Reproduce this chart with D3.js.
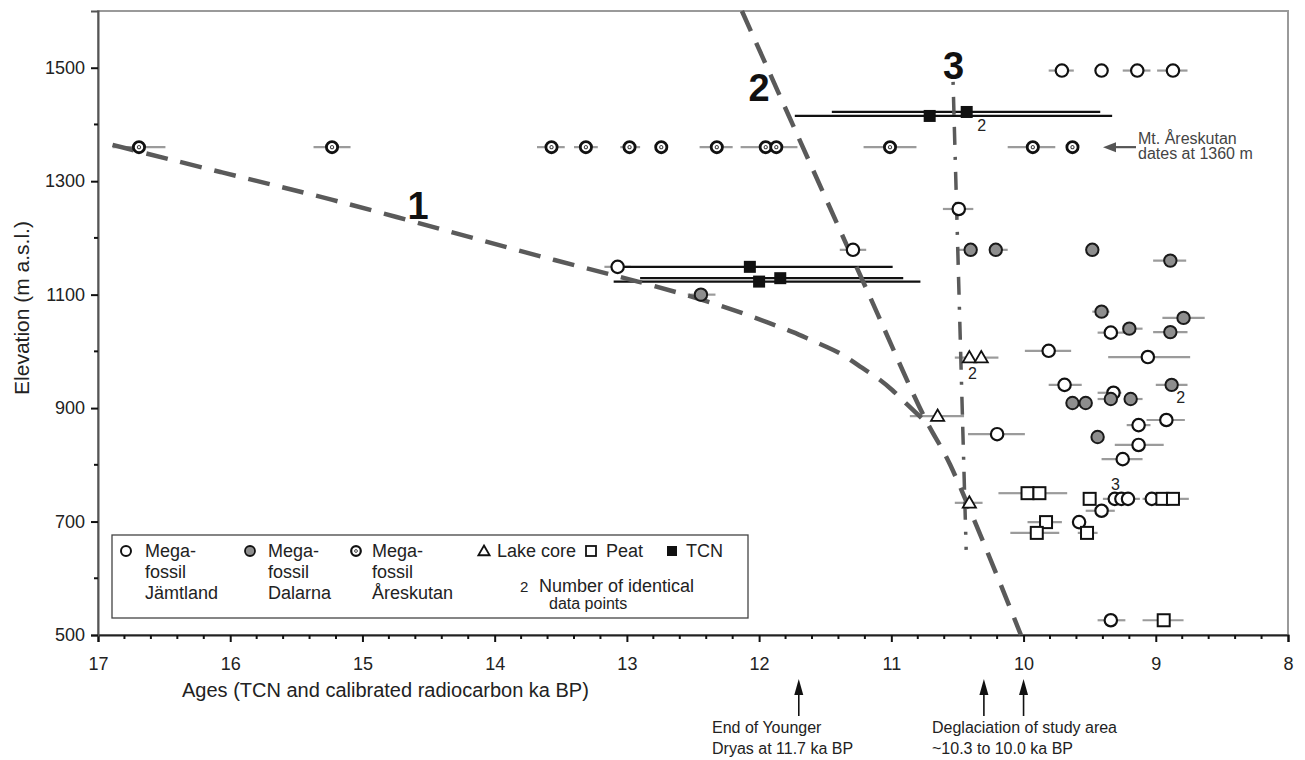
<!DOCTYPE html>
<html><head><meta charset="utf-8">
<script src="https://cdn.jsdelivr.net/npm/d3@7"></script>
<style>
html,body{margin:0;padding:0;background:#fff;}
svg{display:block;font-family:"Liberation Sans",Arial,Helvetica,sans-serif;}
</style></head>
<body>
<svg id="chart" width="1305" height="760"></svg>
<script>
// ---------- DATA ----------
const xTicks = [17,16,15,14,13,12,11,10,9,8];
const yTicks = [500,700,900,1100,1300,1500];
// [age ka BP, elevation m, age error older end, age error younger end]
const jamtland = [
  [9.71,1495,9.81,9.62],[9.41,1495,null,null],[9.14,1495,9.25,9.04],[8.87,1495,8.99,8.76],
  [10.49,1251,10.61,10.38],[11.29,1179,11.39,11.19],[13.07,1149,13.17,12.97],
  [9.34,1033,9.44,9.22],[9.81,1001,9.99,9.64],[9.06,990,9.36,8.74],[9.69,941,9.81,9.56],
  [9.32,927,9.44,9.26],[8.92,879,9.07,8.78],[9.13,870,9.22,9.04],[9.13,835,9.31,8.94],
  [9.25,810,9.41,9.10],[10.20,854,10.42,9.99],[9.41,719,9.53,9.31],[9.58,699,null,null],
  [9.31,740,9.40,null],[9.26,740,null,null],[9.21,740,null,9.12],[9.03,740,9.10,null],
  [9.34,526,9.44,9.23]
];
const dalarna = [
  [12.44,1100,12.54,12.33],[10.40,1179,10.49,null],[10.21,1179,null,10.12],[9.48,1179,null,null],
  [8.89,1160,9.02,8.77],[9.41,1070,9.48,9.35],[8.79,1059,8.95,8.63],[9.20,1040,null,9.10],
  [8.89,1034,9.02,8.76],[9.63,909,null,null],[9.53,909,null,null],[9.34,916,9.44,null],
  [9.19,916,null,9.10],[8.88,941,9.00,8.76],[9.44,849,null,null]
];
const areskutan = [
  [16.69,1360,16.89,16.49],[15.23,1360,15.37,15.09],[13.57,1360,13.68,13.47],[13.31,1360,13.40,13.22],
  [12.98,1360,13.05,12.90],[12.74,1360,null,null],[12.32,1360,12.45,12.20],[11.95,1360,12.14,null],
  [11.87,1360,null,11.71],[11.01,1360,11.21,10.81],[9.93,1360,10.12,9.76],[9.63,1360,null,null]
];
const lakeCore = [
  [10.65,886,10.86,10.45],[10.41,989,10.52,null],[10.32,989,null,10.19],[10.41,733,10.52,10.31]
];
const peat = [
  [9.97,750,10.19,null],[9.88,750,null,9.67],[9.50,740,9.55,9.45],[8.95,740,null,null],
  [8.87,740,null,8.75],[9.83,699,9.97,9.71],[9.90,680,10.10,9.73],[9.52,680,9.59,9.44],
  [8.94,526,9.10,8.79]
];
const tcn = [
  [12.07,1149,13.08,10.99],[12.00,1123,13.10,10.78],[11.84,1129,12.90,10.91],
  [10.71,1415,11.73,9.33],[10.43,1422,11.45,9.42]
];
// number of identical data points: [label, age, elevation]
const identical = [["2",10.43,1422],["2",10.41,989],["2",8.88,941],["3",9.26,740]];
// deglaciation lines [age, elevation]
const line1 = [[16.89,1364],[16.06,1315],[15.24,1269],[14.34,1211],[13.51,1158],[12.90,1123],
  [12.29,1082],[11.89,1047],[11.74,1034],[11.61,1020],[11.49,1008],[11.36,994],[11.24,973],
  [11.11,955],[10.99,932],[10.88,906],[10.76,880]];
const line2 = [[12.13,1600],[11.175,1103],[10.752,885],[10.555,800],[10.02,500]];
const line3 = [[10.533,1475],[10.434,650]];
const lineLabels = [["1",14.58,1258],["2",12.0,1465],["3",10.53,1505]];
const arrowAges = [11.7,10.3,10.0];

// ---------- CHART ----------
const svg = d3.select("#chart");
const x = d3.scaleLinear().domain([17,8]).range([98,1288]);
const y = d3.scaleLinear().domain([500,1600]).range([635,11]);
const font = '"Liberation Sans",Arial,Helvetica,sans-serif';
const ink = "#222";

// frame
svg.append("rect").attr("x",x(17)).attr("y",y(1600)).attr("width",x(8)-x(17)).attr("height",y(500)-y(1600))
  .attr("fill","none").attr("stroke","#9a9a9a").attr("stroke-width",2);

// axes
const xAxis = d3.axisBottom(x).tickValues(xTicks).tickSize(7).tickFormat(d3.format("d")).tickPadding(15);
const gx = svg.append("g").attr("transform",`translate(0,${y(500)})`).call(xAxis);
gx.select(".domain").attr("stroke","#222").attr("stroke-width",2);
gx.selectAll(".tick line").attr("stroke","#111").attr("stroke-width",2);
gx.selectAll(".tick text").attr("font-size",18).attr("font-family",font).attr("fill",ink);
const xMinor = d3.range(17,8,-0.2).map(d=>+d.toFixed(1)).filter(d=>Math.abs(d-Math.round(d))>0.01);
svg.append("g").selectAll("line").data(xMinor).join("line")
  .attr("x1",d=>x(d)).attr("x2",d=>x(d)).attr("y1",y(500)).attr("y2",y(500)+4)
  .attr("stroke","#111").attr("stroke-width",2);

const yAxis = d3.axisLeft(y).tickValues(yTicks).tickSize(7).tickPadding(6).tickFormat(d3.format("d"));
const gy = svg.append("g").attr("transform",`translate(${x(17)},0)`).call(yAxis);
gy.select(".domain").attr("stroke","#555").attr("stroke-width",2);
gy.selectAll(".tick line").attr("stroke","#111").attr("stroke-width",2);
gy.selectAll(".tick text").attr("font-size",18).attr("font-family",font).attr("fill",ink);
const yMinor = [600,800,1000,1200,1400];
svg.append("g").selectAll("line").data(yMinor).join("line")
  .attr("x1",x(17)-4).attr("x2",x(17)).attr("y1",d=>y(d)).attr("y2",d=>y(d))
  .attr("stroke","#111").attr("stroke-width",2);

// axis titles
svg.append("text").attr("x",182).attr("y",697).attr("font-size",20).attr("fill",ink)
  .text("Ages (TCN and calibrated radiocarbon ka BP)");
svg.append("text").attr("transform","translate(29,308) rotate(-90)").attr("text-anchor","middle")
  .attr("font-size",21).attr("fill",ink).text("Elevation (m a.s.l.)");

// error bars
const errSeries = [jamtland,dalarna,areskutan,lakeCore,peat];
const gErr = svg.append("g");
errSeries.forEach(s=>{
  gErr.selectAll(null).data(s.filter(d=>d[2]!==null||d[3]!==null)).join("line")
    .attr("x1",d=>x(d[2]===null?d[0]:d[2])).attr("x2",d=>x(d[3]===null?d[0]:d[3]))
    .attr("y1",d=>y(d[1])).attr("y2",d=>y(d[1]))
    .attr("stroke","#9b9b9b").attr("stroke-width",2.2);
});
svg.append("g").selectAll("line").data(tcn).join("line")
  .attr("x1",d=>x(d[2])).attr("x2",d=>x(d[3])).attr("y1",d=>y(d[1])).attr("y2",d=>y(d[1]))
  .attr("stroke","#111").attr("stroke-width",2.2);

// dashed lines
const mk = (c)=>d3.line().x(d=>x(d[0])).y(d=>y(d[1])).curve(c);
svg.append("path").attr("d",mk(d3.curveBasis)(line1)).attr("fill","none")
  .attr("stroke","#5a5a5a").attr("stroke-width",4.5).attr("stroke-dasharray","22,13");
svg.append("path").attr("d",mk(d3.curveCatmullRom)(line2)).attr("fill","none")
  .attr("stroke","#5a5a5a").attr("stroke-width",4.5).attr("stroke-dasharray","22,13");
svg.append("path").attr("d",mk(d3.curveLinear)(line3)).attr("fill","none")
  .attr("stroke","#5a5a5a").attr("stroke-width",3.5).attr("stroke-dasharray","3,12,18,12,18,12");
svg.append("g").selectAll("text").data(lineLabels).join("text")
  .attr("x",d=>x(d[1])).attr("y",d=>y(d[2])).attr("text-anchor","middle").attr("dy","0.36em")
  .attr("font-size",38).attr("font-weight","bold").attr("fill","#111").text(d=>d[0]);

// symbols
function drawCircles(data,fill,stroke,sw){
  svg.append("g").selectAll("circle").data(data).join("circle")
    .attr("cx",d=>x(d[0])).attr("cy",d=>y(d[1])).attr("r",6.2)
    .attr("fill",fill).attr("stroke",stroke).attr("stroke-width",sw);
}
drawCircles(jamtland,"#fff","#111",2.2);
drawCircles(dalarna,"#8e8e8e","#1a1a1a",2);
const ga = svg.append("g").selectAll("g").data(areskutan).join("g")
  .attr("transform",d=>`translate(${x(d[0])},${y(d[1])})`);
ga.append("circle").attr("r",5.6).attr("fill","#fff").attr("stroke","#111").attr("stroke-width",2.8);
ga.append("circle").attr("r",1.6).attr("fill","#fff").attr("stroke","#444").attr("stroke-width",1.1);
const tri = d3.symbol().type(d3.symbolTriangle).size(75);
svg.append("g").selectAll("path").data(lakeCore).join("path")
  .attr("d",tri).attr("transform",d=>`translate(${x(d[0])},${y(d[1])+1})`)
  .attr("fill","#fff").attr("stroke","#111").attr("stroke-width",1.8);
svg.append("g").selectAll("rect").data(peat).join("rect")
  .attr("x",d=>x(d[0])-6).attr("y",d=>y(d[1])-6).attr("width",12).attr("height",12)
  .attr("fill","#fff").attr("stroke","#111").attr("stroke-width",2);
svg.append("g").selectAll("rect").data(tcn).join("rect")
  .attr("x",d=>x(d[0])-6).attr("y",d=>y(d[1])-6).attr("width",12).attr("height",12)
  .attr("fill","#111");

// number of identical points
const idOffsets = [[15,19],[3,21],[9,18],[-6,-9]];
svg.append("g").selectAll("text").data(identical).join("text")
  .attr("x",(d,i)=>x(d[1])+idOffsets[i][0]).attr("y",(d,i)=>y(d[2])+idOffsets[i][1])
  .attr("text-anchor","middle").attr("font-size",16).attr("fill",ink).text(d=>d[0]);

// Mt. Åreskutan annotation
const ay = y(1360);
svg.append("line").attr("x1",1136).attr("x2",1112).attr("y1",ay).attr("y2",ay).attr("stroke","#555").attr("stroke-width",2.2);
svg.append("path").attr("d",`M1103,${ay} L1116,${ay-5} L1116,${ay+5} Z`).attr("fill","#555");
svg.append("text").attr("x",1138).attr("y",ay-3).attr("font-size",16).attr("fill","#444").text("Mt. Åreskutan");
svg.append("text").attr("x",1138).attr("y",ay+12).attr("font-size",16).attr("fill","#444").text("dates at 1360 m");

// arrows below axis
arrowAges.forEach(a=>{
  const ax = x(a);
  svg.append("line").attr("x1",ax).attr("x2",ax).attr("y1",716).attr("y2",690).attr("stroke","#111").attr("stroke-width",1.6);
  svg.append("path").attr("d",`M${ax},679 L${ax-4.5},695 L${ax+4.5},695 Z`).attr("fill","#111");
});
svg.append("text").attr("x",712).attr("y",733).attr("font-size",16).attr("fill",ink).text("End of Younger");
svg.append("text").attr("x",712).attr("y",754).attr("font-size",16).attr("fill",ink).text("Dryas at 11.7 ka BP");
svg.append("text").attr("x",932).attr("y",733).attr("font-size",16).attr("fill",ink).text("Deglaciation of study area");
svg.append("text").attr("x",932).attr("y",754).attr("font-size",16).attr("fill",ink).text("~10.3 to 10.0 ka BP");

// legend
const lgG = svg.append("g");
lgG.append("rect").attr("x",112).attr("y",535).attr("width",636).attr("height",83)
  .attr("fill","#fff").attr("stroke","#444").attr("stroke-width",1.3);
const ly = 551;
lgG.append("circle").attr("cx",126).attr("cy",ly).attr("r",5).attr("fill","#fff").attr("stroke","#111").attr("stroke-width",2);
lgG.append("circle").attr("cx",250).attr("cy",ly).attr("r",5).attr("fill","#8e8e8e").attr("stroke","#111").attr("stroke-width",1.8);
lgG.append("circle").attr("cx",356).attr("cy",ly).attr("r",4.8).attr("fill","#fff").attr("stroke","#111").attr("stroke-width",2.2);
lgG.append("circle").attr("cx",356).attr("cy",ly).attr("r",1.4).attr("fill","#fff").attr("stroke","#444").attr("stroke-width",1);
lgG.append("path").attr("d",d3.symbol().type(d3.symbolTriangle).size(55)).attr("transform",`translate(484,${ly+1})`)
  .attr("fill","#fff").attr("stroke","#111").attr("stroke-width",1.8);
lgG.append("rect").attr("x",586).attr("y",ly-5).attr("width",10).attr("height",10).attr("fill","#fff").attr("stroke","#111").attr("stroke-width",1.8);
lgG.append("rect").attr("x",667).attr("y",ly-5).attr("width",10).attr("height",10).attr("fill","#111");
const legText = [[145,["Mega-","fossil","Jämtland"]],[268,["Mega-","fossil","Dalarna"]],[372,["Mega-","fossil","Åreskutan"]]];
legText.forEach(([lx,lines])=>{
  lines.forEach((t,i)=>lgG.append("text").attr("x",lx).attr("y",ly+6+i*21).attr("font-size",18).attr("fill",ink).text(t));
});
lgG.append("text").attr("x",497).attr("y",ly+6).attr("font-size",18).attr("fill",ink).text("Lake core");
lgG.append("text").attr("x",606).attr("y",ly+6).attr("font-size",18).attr("fill",ink).text("Peat");
lgG.append("text").attr("x",686).attr("y",ly+6).attr("font-size",18).attr("fill",ink).text("TCN");
lgG.append("text").attr("x",520).attr("y",ly+41).attr("font-size",15).attr("fill",ink).text("2");
lgG.append("text").attr("x",539).attr("y",ly+41).attr("font-size",18).attr("fill",ink).text("Number of identical");
lgG.append("text").attr("x",549).attr("y",ly+58).attr("font-size",16).attr("fill",ink).text("data points");
</script>
</body></html>
